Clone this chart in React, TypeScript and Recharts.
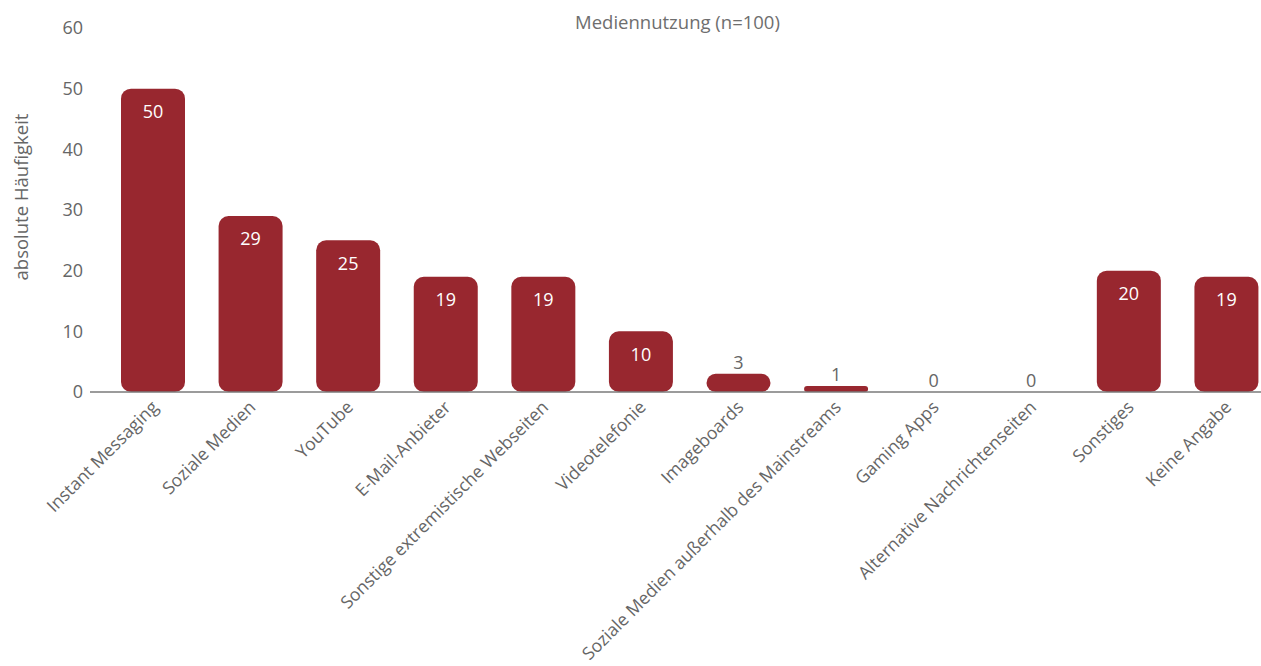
import React from "react";
import { BarChart, Bar, XAxis, YAxis, LabelList } from "recharts";

const categories = [
  "Instant Messaging",
  "Soziale Medien",
  "YouTube",
  "E-Mail-Anbieter",
  "Sonstige extremistische Webseiten",
  "Videotelefonie",
  "Imageboards",
  "Soziale Medien außerhalb des Mainstreams",
  "Gaming Apps",
  "Alternative Nachrichtenseiten",
  "Sonstiges",
  "Keine Angabe",
];
const counts = [50, 29, 25, 19, 19, 10, 3, 1, 0, 0, 20, 19];
const yTicks = [0, 10, 20, 30, 40, 50, 60];

const data = categories.map((name, i) => ({ name, value: counts[i] }));

const FONT = "'Open Sans', sans-serif";
const GRAY = "#666666";
const BAR = "#98272f";

const XTick = (props: any) => {
  const { x, y, payload } = props;
  return (
    <g transform={`translate(${x + 2},${y + 4})`}>
      <text
        x={0}
        y={0}
        dy="0.35em"
        textAnchor="end"
        transform="rotate(-45)"
        fill={GRAY}
        fontSize={17.6}
        fontFamily={FONT}
      >
        {payload.value}
      </text>
    </g>
  );
};

const ValueLabel = (props: any) => {
  const { x, y, width, value } = props;
  const cx = x + width / 2;
  if (value >= 10) {
    return (
      <text x={cx} y={y + 23} dy="0.35em" textAnchor="middle" fill="#ffffff" fontSize={18} fontFamily={FONT}>
        {value}
      </text>
    );
  }
  return (
    <text x={cx} y={y - 11} dy="0.35em" textAnchor="middle" fill={GRAY} fontSize={18} fontFamily={FONT}>
      {value}
    </text>
  );
};

export default function App() {
  return (
    <div style={{ position: "absolute", left: 0, top: 0, width: 1261, height: 666, overflow: "hidden", background: "#fff" }}>
      <div
        style={{
          position: "absolute",
          left: 0,
          width: 1355,
          top: 9,
          textAlign: "center",
          fontFamily: FONT,
          fontSize: 18.5,
          color: "#6e6e6e",
          lineHeight: "26px",
        }}
      >
        Mediennutzung (n=100)
      </div>
      <div
        style={{
          position: "absolute",
          left: 20,
          top: 197,
          transform: "translate(-50%, -50%) rotate(-90deg)",
          whiteSpace: "nowrap",
          fontFamily: FONT,
          fontSize: 18.5,
          color: GRAY,
        }}
      >
        absolute Häufigkeit
      </div>
      <BarChart
        width={1289}
        height={666}
        data={data}
        margin={{ top: 28, right: 0, bottom: 0, left: 0 }}
        barSize={64}
        style={{ position: "absolute", left: 0, top: 0 }}
      >
        <YAxis
          type="number"
          domain={[0, 60]}
          ticks={yTicks}
          width={90}
          axisLine={false}
          tickLine={false}
          tickSize={0}
          tickMargin={7}
          tick={{ fill: GRAY, fontSize: 18, fontFamily: FONT }}
          interval={0}
        />
        <XAxis
          dataKey="name"
          height={274}
          interval={0}
          padding={{ left: 14, right: 14 }}
          axisLine={{ stroke: "#7a7a7a", strokeWidth: 1.5 }}
          tickLine={false}
          tick={<XTick />}
        />
        <Bar
          dataKey="value"
          fill={BAR}
          radius={10}
          minPointSize={(v: number) => (v === 0 ? 0.01 : 0)}
          isAnimationActive={false}
        >
          <LabelList dataKey="value" content={<ValueLabel />} />
        </Bar>
      </BarChart>
    </div>
  );
}
